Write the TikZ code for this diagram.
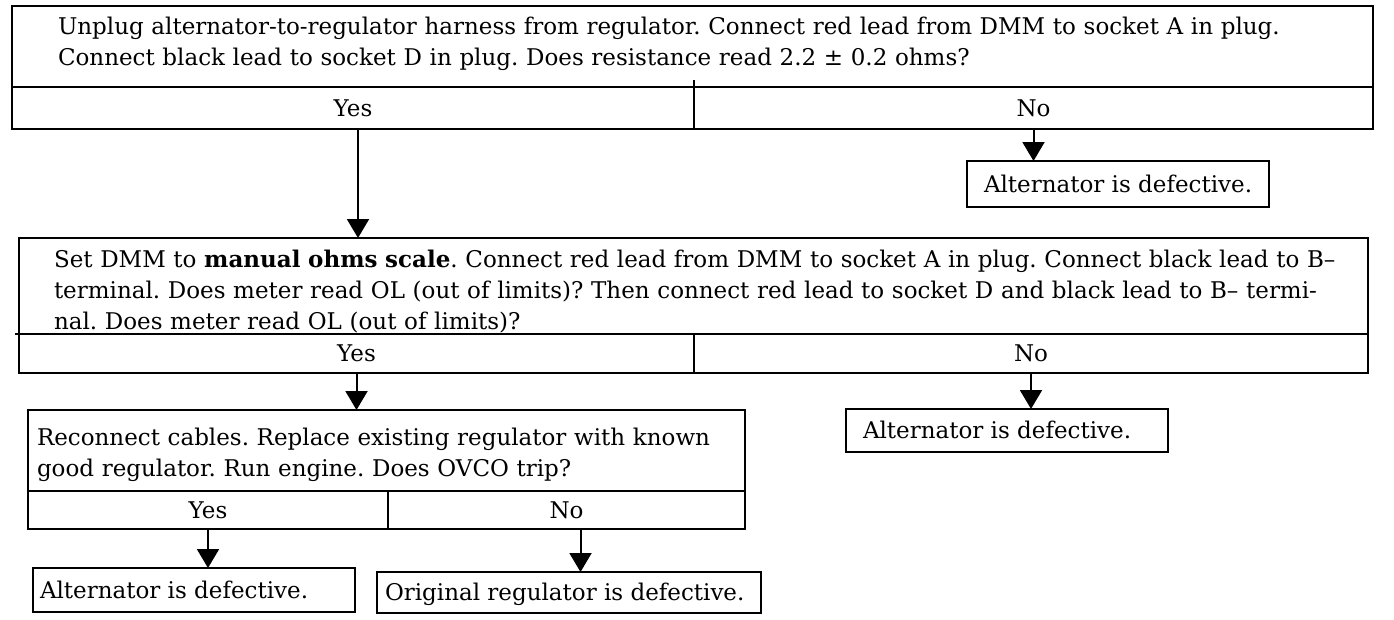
\documentclass[tikz,border=0pt]{standalone}
\usepackage{fontspec}
\setmainfont{DejaVu Serif}
\usetikzlibrary{arrows.meta,calc}
\begin{document}
\frenchspacing
\begin{tikzpicture}[x=1pt,y=-1pt,
  every node/.style={font=\fontsize{23}{31}\selectfont},
  frame/.style={draw, line width=2.2pt, inner sep=0pt, outer sep=0pt, anchor=north west},
  cell/.style={draw, line width=2.2pt, inner sep=0pt, outer sep=0pt, text height=16pt, text depth=0pt, anchor=north west},
  para/.style={inner sep=0pt, outer sep=0pt, anchor=base west, align=left, text width=#1},
  endbox/.style={draw, line width=2.2pt, outer sep=0pt, inner sep=0pt, text height=16pt, text depth=0pt, anchor=north west},
  arr/.style={line width=2pt, -{Triangle[width=22pt,length=19pt]}}
]
\useasboundingbox (0,0) rectangle (1394,619);
\fill[white] (0,0) rectangle (1394,619);

% ---- decision 1
\node[frame, minimum width=1361pt, minimum height=81pt] (q1) at (12,6) {};
\node[para=1310pt] (q1t) at (58,34) {Unplug alternator-to-regulator harness from regulator. Connect red lead from DMM to socket A in plug.\\Connect black lead to socket D in plug. Does resistance read 2.2 ± 0.2 ohms?};
\node[cell, minimum width=682pt, minimum height=42pt] (y1) at (12,87) {Yes};
\node[cell, minimum width=679pt, minimum height=42pt] (n1) at (694,87) {No};
\draw[line width=2.2pt] (y1.north east) -- ++(0,-7);
\node[endbox, minimum width=302pt, minimum height=46pt] (a1) at (967,161) {\makebox[302pt][l]{\hspace*{17pt}Alternator is defective.}};

% ---- decision 2
\node[frame, minimum width=1349pt, minimum height=96pt] (q2) at (19,238) {};
\node[para=1292pt] (q2t) at (54,267) {\makebox[\linewidth][s]{Set DMM to \textbf{manual ohms scale}. Connect red lead from DMM to socket A in plug. Connect black lead to B–}\\
\makebox[\linewidth][s]{terminal. Does meter read OL (out of limits)? Then connect red lead to socket D and black lead to B– termi-}\\
nal. Does meter read OL (out of limits)?};
\node[cell, minimum width=675pt, minimum height=39pt] (y2) at (19,334) {Yes};
\node[cell, minimum width=674pt, minimum height=39pt] (n2) at (694,334) {No};
\draw[line width=2.2pt] (q2.south west) -- ++(-4,0);
\node[endbox, minimum width=322pt, minimum height=43pt] (a2) at (846,409) {\makebox[322pt][l]{\hspace*{17pt}Alternator is defective.}};

% ---- decision 3
\node[frame, minimum width=717pt, minimum height=81pt] (q3) at (28,410) {};
\node[para=700pt] (q3t) at (37,445) {Reconnect cables. Replace existing regulator with known\\good regulator. Run engine. Does OVCO trip?};
\node[cell, minimum width=360pt, minimum height=38pt] (y3) at (28,491) {Yes};
\node[cell, minimum width=357pt, minimum height=38pt] (n3) at (388,491) {No};
\node[endbox, minimum width=322pt, minimum height=44pt] (a3) at (33,568) {\makebox[322pt][l]{\hspace*{7pt}Alternator is defective.}};
\node[endbox, minimum width=384pt, minimum height=41pt] (o3) at (377,572) {\makebox[384pt][l]{\hspace*{8pt}Original regulator is defective.}};

% ---- connectors
\draw[arr] ([xshift=5pt]y1.south) -- ([xshift=5pt]y1.south |- q2.north);
\draw[arr] (n1.south) -- (n1.south |- a1.north);
\draw[arr] (y2.south) -- (y2.south |- q3.north);
\draw[arr] (n2.south) -- (n2.south |- a2.north);
\draw[arr] (y3.south) -- (y3.south |- a3.north);
\draw[arr] ([xshift=14pt]n3.south) -- ([xshift=14pt]n3.south |- o3.north);
\end{tikzpicture}
\end{document}
